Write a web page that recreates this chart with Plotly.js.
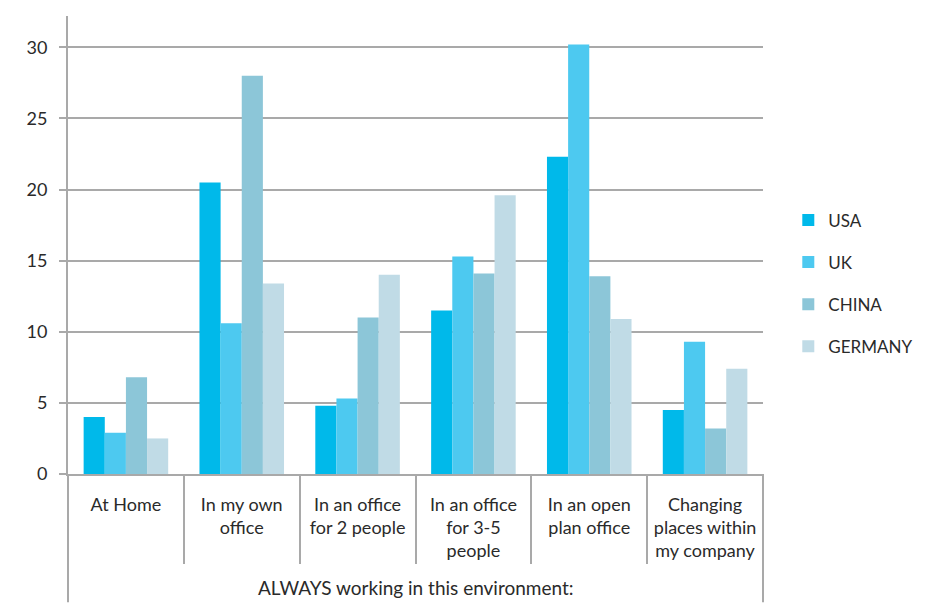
<!DOCTYPE html>
<html>
<head>
<meta charset="utf-8">
<script src="https://cdn.plot.ly/plotly-3.0.1.min.js"></script>
<style>html,body{margin:0;padding:0;background:#fff;}</style>
</head>
<body>
<div id="chart" style="width:930px;height:611px;"></div>
<script>
const categories = [
  "At Home",
  "In my own<br>office",
  "In an office<br>for 2 people",
  "In an office<br>for 3-5<br>people",
  "In an open<br>plan office",
  "Changing<br>places within<br>my company"
];
const seriesNames = ["USA", "UK", "CHINA", "GERMANY"];
const usa     = [4.0, 20.5, 4.8, 11.5, 22.3, 4.5];
const uk      = [2.9, 10.6, 5.3, 15.3, 30.2, 9.3];
const china   = [6.8, 28.0, 11.0, 14.1, 13.9, 3.2];
const germany = [2.5, 13.4, 14.0, 19.6, 10.9, 7.4];
const axisTitle = "ALWAYS working in this environment:";
const yTicks = [0, 5, 10, 15, 20, 25, 30];

const colors = ["#00b9ea", "#4dc9f0", "#8cc6d8", "#c0dbe6"];
const values = [usa, uk, china, germany];

const fontFam = "Lato, 'Open Sans', sans-serif";
const textColor = "#2a2a2a";
const lineColor = "#a9a9a9";

const traces = seriesNames.map((name, i) => ({
  type: "bar",
  name: name,
  x: categories,
  y: values[i],
  marker: {color: colors[i], line: {width: 0}},
  legendgroup: name,
  hoverinfo: "x+y+name"
}));

const layout = {
  width: 930,
  height: 611,
  paper_bgcolor: "#ffffff",
  plot_bgcolor: "#ffffff",
  margin: {l: 68, r: 163, t: 16, b: 136.5, pad: 0},
  barmode: "group",
  bargap: 0.27,
  bargroupgap: 0,
  font: {family: fontFam, color: textColor, size: 18},
  showlegend: true,
  legend: {
    x: 1.0364, y: 0.416, xanchor: "left", yanchor: "middle",
    font: {family: fontFam, size: 17, color: textColor},
    tracegroupgap: 17,
    itemwidth: 30,
    bgcolor: "rgba(0,0,0,0)"
  },
  xaxis: {
    type: "category",
    showline: true, linecolor: lineColor, linewidth: 2,
    ticks: "outside", tickson: "boundaries", ticklen: 88, tickwidth: 2, tickcolor: lineColor,
    ticklabelstandoff: 13,
    tickfont: {family: fontFam, size: 18, color: textColor},
    showgrid: false, zeroline: false, fixedrange: true
  },
  yaxis: {
    range: [0, 32.2],
    tickvals: yTicks,
    showline: true, linecolor: lineColor, linewidth: 2,
    ticks: "outside", ticklen: 7, tickwidth: 2, tickcolor: lineColor,
    ticklabelstandoff: 8,
    showgrid: true, gridcolor: lineColor, gridwidth: 2,
    zeroline: false,
    tickfont: {family: fontFam, size: 18, color: textColor},
    fixedrange: true
  },
  shapes: [
    {type: "line", xref: "paper", yref: "paper", x0: 0, x1: 0, y0: 0, y1: -0.28,
     line: {color: lineColor, width: 2}},
    {type: "line", xref: "paper", yref: "paper", x0: 1, x1: 1, y0: 0, y1: -0.28,
     line: {color: lineColor, width: 2}}
  ],
  annotations: [
    {text: axisTitle, xref: "paper", yref: "paper", x: 0.5, y: -0.248,
     xanchor: "center", yanchor: "middle", showarrow: false,
     font: {family: fontFam, size: 19, color: textColor}}
  ]
};

Plotly.newPlot("chart", traces, layout, {displayModeBar: false, staticPlot: true});
</script>
</body>
</html>
